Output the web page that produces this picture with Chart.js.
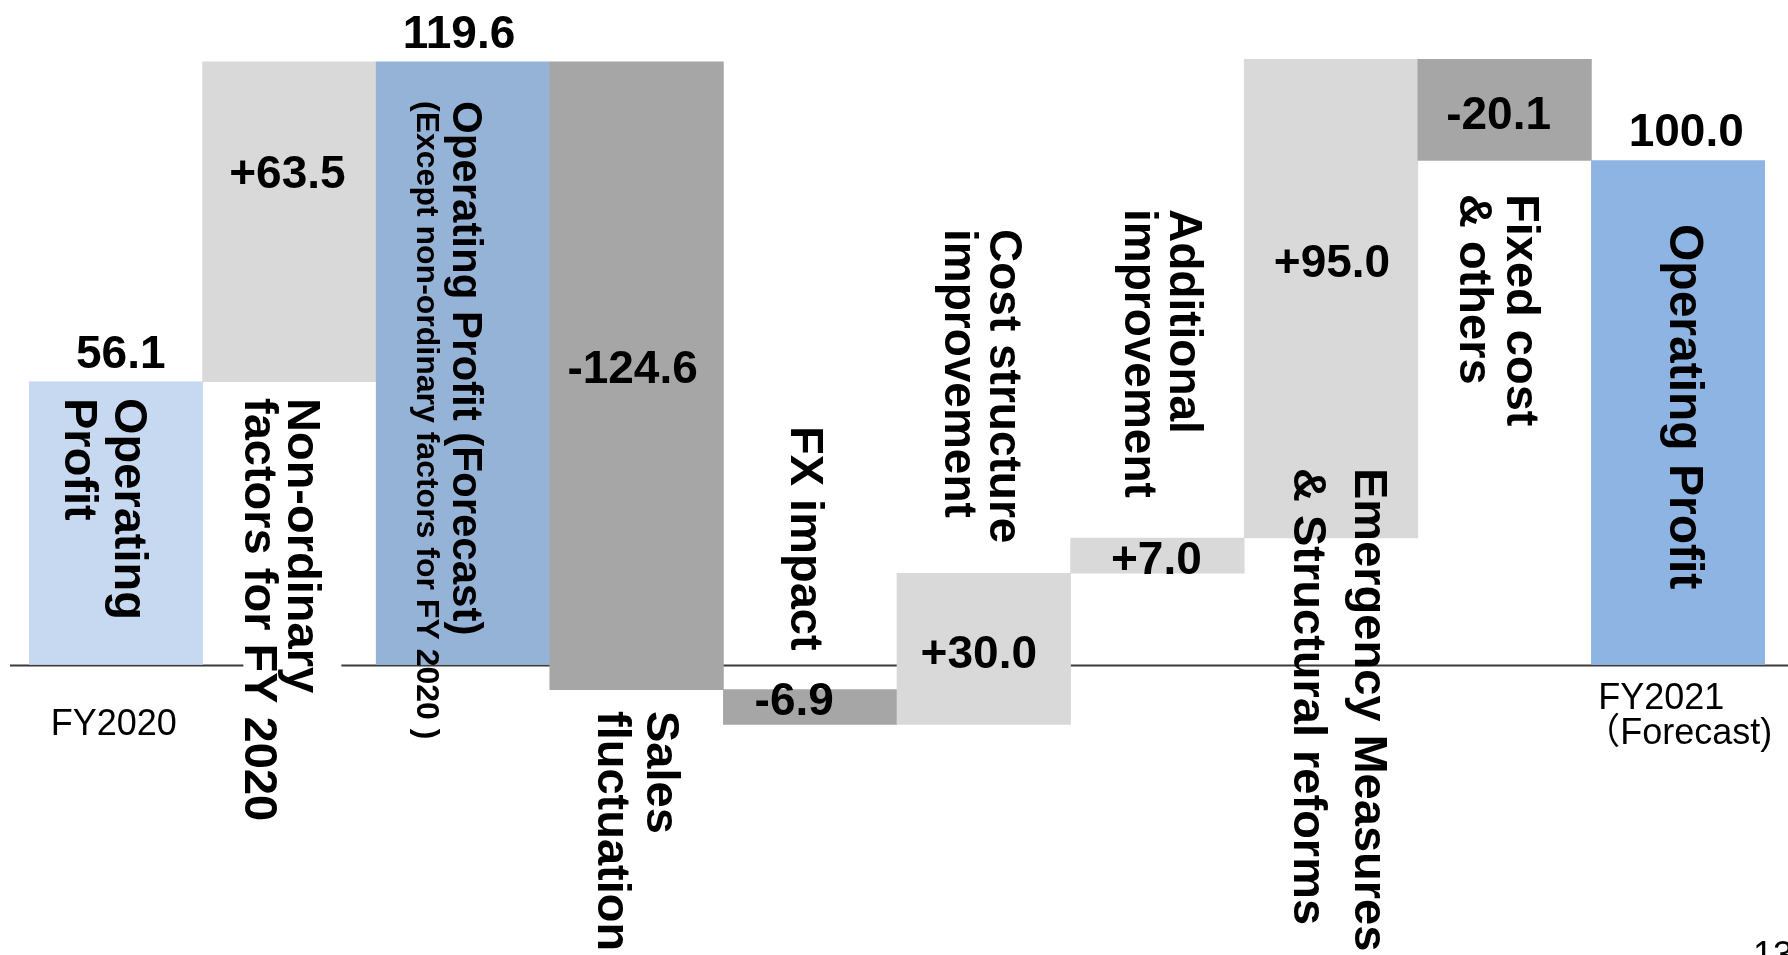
<!DOCTYPE html>
<html>
<head>
<meta charset="utf-8">
<title>Operating Profit Bridge FY2020 → FY2021</title>
<script src="https://cdn.jsdelivr.net/npm/chart.js@4/dist/chart.umd.min.js"></script>
<style>
  html, body { margin: 0; padding: 0; background: #ffffff; }
  #wrap { width: 1788px; height: 955px; position: relative; }
  canvas { display: block; }
</style>
</head>
<body>
<div id="wrap"><canvas id="bridge" width="1788" height="955"></canvas></div>
<script>
// ---- data ----------------------------------------------------------------
const categories = [
  'FY2020 Operating Profit',
  'Non-ordinary factors for FY 2020',
  'Operating Profit (Forecast) (Except non-ordinary factors for FY 2020)',
  'Sales fluctuation',
  'FX impact',
  'Cost structure improvement',
  'Additional improvement',
  'Emergency Measures & Structural reforms',
  'Fixed cost & others',
  'FY2021 (Forecast) Operating Profit'
];
// Totals are absolute levels, steps are changes from the previous level
const stepKinds = ['total', 'step', 'total', 'step', 'step', 'step', 'step', 'step', 'step', 'total'];
const values    = [56.1, 63.5, 119.6, -124.6, -6.9, 30.0, 7.0, 95.0, -20.1, 100.0];

// Text written along each bar (rotated, reads top to bottom)
const barCaptions = [
  ['Operating', 'Profit'],
  ['Non-ordinary', 'factors for FY 2020'],
  ['Operating Profit (Forecast)', '(Except non-ordinary factors for FY 2020 )'],
  ['Sales', 'fluctuation'],
  ['FX impact'],
  ['Cost structure', 'improvement'],
  ['Additional', 'improvement'],
  ['Emergency Measures', '& Structural reforms'],
  ['Fixed cost', '& others'],
  ['Operating Profit']
];
// Period labels under the axis
const periodLabels = { 0: ['FY2020'], 9: ['FY2021', '（Forecast)'] };
const pageNumber = '13';

// ---- styling / layout ----------------------------------------------------
const COLORS = ['#C6D9F1', '#D9D9D9', '#95B3D7', '#A6A6A6', '#A6A6A6',
                '#D9D9D9', '#D9D9D9', '#D9D9D9', '#A6A6A6', '#8DB4E2'];
const FONT = '"Liberation Sans", Arial, Helvetica, sans-serif';

// value label placement: dx from bar centre, baseline y in px
const valueLabelPos = [
  { dx: 5,   y: 368 }, { dx: -2,  y: 188 }, { dx: -4, y: 48 },
  { dx: -4,  y: 383 }, { dx: -16, y: 715 }, { dx: -5, y: 668 },
  { dx: -1,  y: 574 }, { dx: 1,   y: 277 }, { dx: -6, y: 129 },
  { dx: 8,   y: 146 }
];
// caption placement: baseline offsets (one per line, first line rightmost), start y, sizes
const captionPos = [
  { base: [-1, -51],  y: 398, size: [47, 47] },
  { base: [-1, -44],  y: 398, size: [47, 47], knockout: true },
  { base: [-10, -46], y: 101, size: [42, 32] },
  { base: [10, -39],  y: 711, size: [47, 47] },
  { base: [-19],      y: 426, size: [47] },
  { base: [6, -39],   y: 229, size: [46, 46] },
  { base: [13, -32],  y: 209, size: [46, 46] },
  { base: [24, -37],  y: 468, size: [47, 47] },
  { base: [2, -45],   y: 194, size: [47, 47] },
  { base: [-8],       y: 224, size: [48] }
];

// ---- build floating bar ranges from the values ---------------------------
const ranges = [];
let level = 0;
values.forEach((v, i) => {
  if (stepKinds[i] === 'total') {
    ranges.push([0, v]);
    level = v;
  } else {
    ranges.push([level, level + v]);
    level = level + v;
  }
});
const valueText = values.map((v, i) =>
  stepKinds[i] === 'total' ? v.toFixed(1) : (v > 0 ? '+' : '') + v.toFixed(1));

// ---- plugins -------------------------------------------------------------
const zeroLine = {
  id: 'zeroLine',
  beforeDatasetsDraw(chart) {
    const { ctx, scales: { y } } = chart;
    const py = Math.round(y.getPixelForValue(0)) + 0.5;
    ctx.save();
    ctx.strokeStyle = '#3a3a3a';
    ctx.lineWidth = 2;
    ctx.beginPath();
    ctx.moveTo(10, py);
    ctx.lineTo(chart.width, py);
    ctx.stroke();
    ctx.restore();
  }
};

const bridgeText = {
  id: 'bridgeText',
  afterDatasetsDraw(chart) {
    const { ctx, scales: { x } } = chart;
    ctx.save();
    ctx.fillStyle = '#000000';

    // values
    ctx.textAlign = 'center';
    ctx.textBaseline = 'alphabetic';
    ctx.font = 'bold 46px ' + FONT;
    valueText.forEach((t, i) => {
      const cx = x.getPixelForValue(i);
      ctx.fillText(t, cx + valueLabelPos[i].dx, valueLabelPos[i].y);
    });

    // rotated captions
    barCaptions.forEach((lines, i) => {
      const cx = x.getPixelForValue(i);
      const p = captionPos[i];
      if (p.knockout) {
        // caption box is opaque white and hides the axis line behind it
        ctx.fillStyle = '#ffffff';
        ctx.fillRect(cx + p.base[1] - 2, p.y - 12, p.base[0] - p.base[1] + 55, 440);
        ctx.fillStyle = '#000000';
      }
      lines.forEach((line, k) => {
        ctx.save();
        // rotated text: glyph tops face right, so the baseline sits on the left edge
        ctx.translate(cx + p.base[k], p.y);
        ctx.rotate(Math.PI / 2);
        ctx.font = 'bold ' + p.size[k] + 'px ' + FONT;
        ctx.textAlign = 'left';
        ctx.textBaseline = 'alphabetic';
        ctx.fillText(line, 0, 0);
        ctx.restore();
      });
    });

    // period labels under the axis
    ctx.font = '36px ' + FONT;
    ctx.textBaseline = 'alphabetic';
    ctx.textAlign = 'center';
    ctx.fillText(periodLabels[0][0], x.getPixelForValue(0) - 2, 735);
    ctx.textAlign = 'left';
    const fx = x.getPixelForValue(9) - 80;
    ctx.fillText(periodLabels[9][0], fx, 709);
    ctx.font = '36px ' + FONT + ', "Noto Sans CJK JP"';
    ctx.fillText(periodLabels[9][1], fx - 14, 744);

    // page number at the bottom right corner
    ctx.font = '36px ' + FONT;
    ctx.fillText(pageNumber, 1753, 967);
    ctx.restore();
  }
};

// ---- chart ---------------------------------------------------------------
new Chart(document.getElementById('bridge'), {
  type: 'bar',
  data: {
    labels: categories,
    datasets: [{
      data: ranges,
      backgroundColor: COLORS,
      borderWidth: 0,
      barPercentage: 1.0,
      categoryPercentage: 1.0
    }]
  },
  options: {
    responsive: false,
    animation: false,
    devicePixelRatio: 1,
    layout: { padding: { left: 29, right: 23, top: 0, bottom: 0 } },
    plugins: {
      legend: { display: false },
      tooltip: { enabled: false },
      title: { display: false }
    },
    scales: {
      x: { display: false, offset: true, grid: { display: false } },
      y: { display: false, min: -57.64, max: 131.85, grid: { display: false } }
    }
  },
  plugins: [zeroLine, bridgeText]
});
</script>
</body>
</html>
